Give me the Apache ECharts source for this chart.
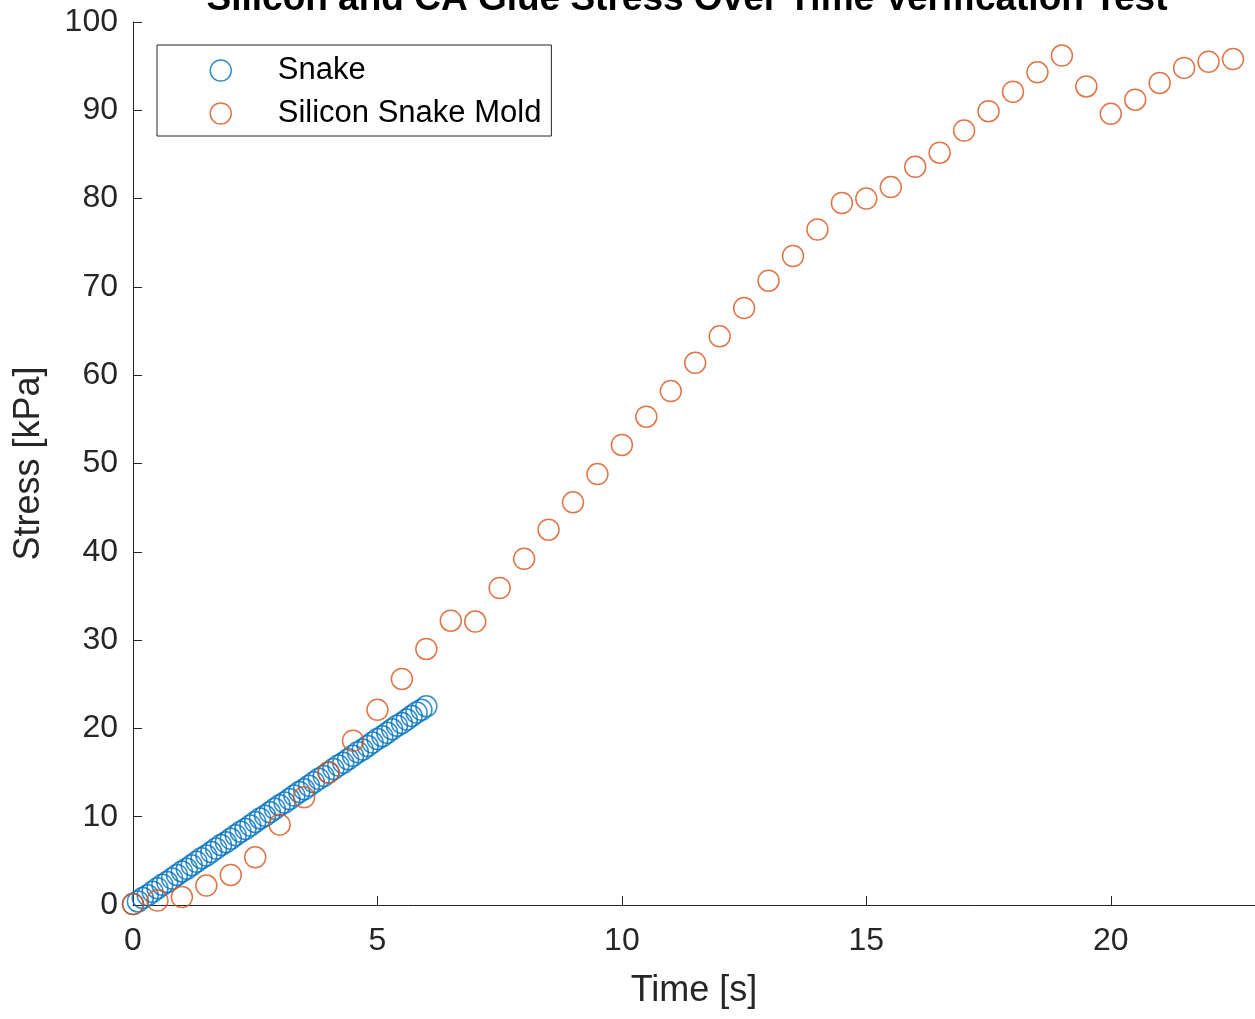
<!DOCTYPE html>
<html>
<head>
<meta charset="utf-8">
<script src="https://cdn.jsdelivr.net/npm/echarts@6/dist/echarts.min.js"></script>
<style>
html,body{margin:0;padding:0;background:#fff;}
#chart{width:1255px;height:1019px;}
</style>
</head>
<body>
<div id="chart"></div>
<script>
// ---- data ----
const snakeTime = [0.0,0.1,0.2,0.3,0.4,0.5,0.6,0.7,0.8,0.9,1.0,1.1,1.2,1.3,1.4,1.5,1.6,1.7,1.8,1.9,2.0,2.1,2.2,2.3,2.4,2.5,2.6,2.7,2.8,2.9,3.0,3.1,3.2,3.3,3.4,3.5,3.6,3.7,3.8,3.9,4.0,4.1,4.2,4.3,4.4,4.5,4.6,4.7,4.8,4.9,5.0,5.1,5.2,5.3,5.4,5.5,5.6,5.7,5.8,5.9,6.0];
const snakeStress = [0.1,0.4,0.8,1.1,1.5,1.9,2.3,2.6,3.0,3.4,3.8,4.1,4.5,4.9,5.3,5.6,6.0,6.4,6.8,7.1,7.5,7.9,8.3,8.6,9.0,9.4,9.8,10.1,10.5,10.9,11.3,11.6,12.0,12.4,12.8,13.1,13.5,13.9,14.3,14.6,15.0,15.4,15.8,16.1,16.5,16.9,17.3,17.6,18.0,18.4,18.8,19.1,19.5,19.9,20.3,20.6,21.0,21.4,21.8,22.1,22.5];
const moldTime = [0,0.5,1,1.5,2,2.5,3,3.5,4,4.5,5,5.5,6,6.5,7,7.5,8,8.5,9,9.5,10,10.5,11,11.5,12,12.5,13,13.5,14,14.5,15,15.5,16,16.5,17,17.5,18,18.5,19,19.5,20,20.5,21,21.5,22,22.5];
const moldStress = [0.1,0.5,0.9,2.2,3.4,5.4,9.1,12.2,15.0,18.6,22.1,25.6,29.0,32.2,32.1,35.9,39.2,42.5,45.6,48.8,52.1,55.3,58.2,61.4,64.4,67.6,70.7,73.5,76.5,79.5,80.0,81.3,83.6,85.2,87.7,89.9,92.1,94.3,96.2,92.7,89.6,91.2,93.1,94.8,95.5,95.8];
const seriesNames = ['Snake','Silicon Snake Mold'];
const xTicks = [0,5,10,15,20];
const yTicks = [0,10,20,30,40,50,60,70,80,90,100];

const blue = '#0072BD', orange = '#D95319', axisCol = '#262626';
const FONT = '"Liberation Sans", Arial, Helvetica, sans-serif';

const chart = echarts.init(document.getElementById('chart'), null, {renderer:'canvas'});
const pair = (xs, ys) => xs.map((x,i)=>[x, ys[i]]);

chart.setOption({
  animation:false,
  backgroundColor:'#fff',
  title:{
    text:'Silicon and CA Glue Stress Over Time Verification Test',
    left:682, top:-24, textAlign:'center',
    textStyle:{fontFamily:FONT, fontSize:37, fontWeight:'bold', color:'#000'}
  },
  legend:{
    left:157, top:45, orient:'vertical',
    padding:[10,10,7,52.5],
    itemWidth:21, itemHeight:21, itemGap:12,
    borderColor:axisCol, borderWidth:1, backgroundColor:'#fff',
    selectedMode:false,
    textStyle:{fontFamily:FONT, fontSize:31, color:'#000', padding:[0,0,0,41.5]},
    data:[
      {name:seriesNames[0], icon:'circle', itemStyle:{color:'rgba(0,0,0,0)', borderColor:blue, borderWidth:1.5}},
      {name:seriesNames[1], icon:'circle', itemStyle:{color:'rgba(0,0,0,0)', borderColor:orange, borderWidth:1.5}}
    ]
  },
  grid:{left:133, top:22, right:0, bottom:114, containLabel:false},
  xAxis:{
    type:'value', min:0, max:22.95, interval:5,
    name:'Time [s]', nameLocation:'middle', nameGap:68,
    nameTextStyle:{fontFamily:FONT, fontSize:36, color:axisCol},
    axisLine:{show:true, lineStyle:{color:axisCol, width:1}},
    axisTick:{show:true, inside:true, length:9, lineStyle:{color:axisCol}, customValues:xTicks},
    axisLabel:{fontFamily:FONT, fontSize:32, color:axisCol, margin:20, customValues:xTicks},
    splitLine:{show:false}
  },
  yAxis:{
    type:'value', min:0, max:100, interval:10,
    name:'Stress [kPa]', nameLocation:'middle', nameGap:86,
    nameTextStyle:{fontFamily:FONT, fontSize:36, color:axisCol},
    axisLine:{show:true, lineStyle:{color:axisCol, width:1}},
    axisTick:{show:true, inside:true, length:9, lineStyle:{color:axisCol}, customValues:yTicks},
    axisLabel:{fontFamily:FONT, fontSize:32, color:axisCol, margin:15, customValues:yTicks},
    splitLine:{show:false}
  },
  series:[
    {name:seriesNames[0], type:'scatter', symbol:'circle', symbolSize:21,
     itemStyle:{color:'rgba(0,0,0,0)', borderColor:blue, borderWidth:1.5},
     emphasis:{disabled:true},
     data:pair(snakeTime, snakeStress)},
    {name:seriesNames[1], type:'scatter', symbol:'circle', symbolSize:21,
     itemStyle:{color:'rgba(0,0,0,0)', borderColor:orange, borderWidth:1.5},
     emphasis:{disabled:true},
     data:pair(moldTime, moldStress)}
  ]
});
</script>
</body>
</html>
